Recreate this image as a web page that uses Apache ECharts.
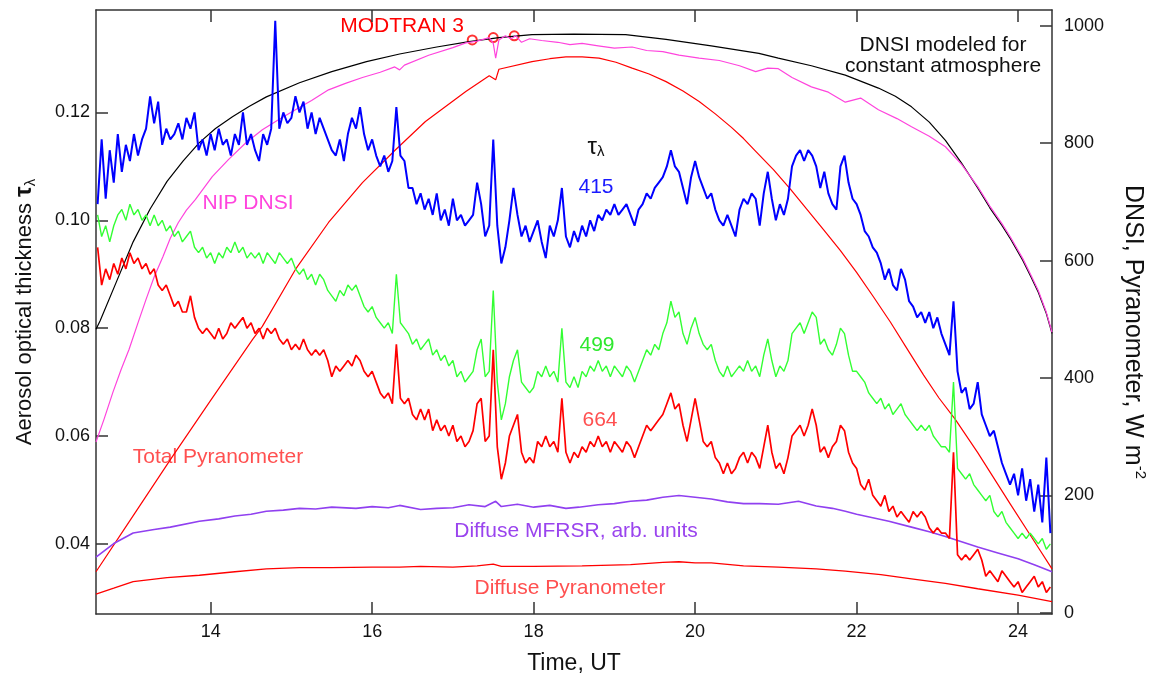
<!DOCTYPE html>
<html>
<head>
    <meta charset="UTF-8">
    <title>Aerosol optical thickness and DNSI</title>
    <script src="https://cdn.jsdelivr.net/npm/echarts@6/dist/echarts.min.js"></script>
</head>
<body style="margin:0;background:#fff;">
    <div id="main" style="width:1156px;height:680px;"></div>
    <script type="text/javascript">
        // time grid of the optical thickness readings (UT hours)
        var T_START = 12.6, T_STEP = 0.05;

        // aerosol optical thickness, one value every 0.05 h from 12.60 to 24.40
        var tau415 = [
            0.103, 0.115, 0.104, 0.113, 0.107, 0.116, 0.109, 0.114,
            0.111, 0.116, 0.112, 0.115, 0.117, 0.123, 0.118, 0.122, 0.114, 0.117,
            0.115, 0.116, 0.118, 0.115, 0.119, 0.117, 0.120, 0.113, 0.115, 0.112,
            0.116, 0.113, 0.117, 0.114, 0.115, 0.112, 0.116, 0.114, 0.120, 0.114,
            0.116, 0.113, 0.111, 0.116, 0.114, 0.117, 0.137, 0.117, 0.120, 0.118,
            0.119, 0.123, 0.120, 0.122, 0.117, 0.120, 0.116, 0.119, 0.117, 0.115,
            0.113, 0.112, 0.115, 0.111, 0.116, 0.119, 0.117, 0.121, 0.116, 0.113,
            0.115, 0.112, 0.110, 0.112, 0.109, 0.111, 0.121, 0.112, 0.111, 0.106,
            0.106, 0.103, 0.105, 0.102, 0.104, 0.101, 0.105, 0.100, 0.102, 0.099,
            0.104, 0.100, 0.101, 0.099, 0.100, 0.101, 0.107, 0.103, 0.097, 0.099,
            0.115, 0.099, 0.092, 0.095, 0.100, 0.106, 0.101, 0.097, 0.099, 0.096,
            0.098, 0.100, 0.096, 0.093, 0.099, 0.097, 0.100, 0.106, 0.097, 0.095,
            0.098, 0.096, 0.099, 0.097, 0.100, 0.098, 0.101, 0.100, 0.102, 0.101,
            0.103, 0.101, 0.102, 0.103, 0.101, 0.099, 0.102, 0.103, 0.105, 0.104,
            0.106, 0.107, 0.108, 0.110, 0.113, 0.110, 0.109, 0.106, 0.103, 0.108,
            0.111, 0.108, 0.106, 0.104, 0.105, 0.102, 0.100, 0.099, 0.101, 0.099,
            0.097, 0.102, 0.104, 0.103, 0.105, 0.104, 0.099, 0.105, 0.109, 0.104,
            0.100, 0.103, 0.101, 0.104, 0.110, 0.112, 0.113, 0.111, 0.113, 0.112,
            0.110, 0.106, 0.109, 0.105, 0.103, 0.102, 0.110, 0.112, 0.107, 0.104,
            0.103, 0.101, 0.098, 0.097, 0.095, 0.094, 0.092, 0.089, 0.091, 0.088,
            0.087, 0.091, 0.089, 0.085, 0.084, 0.082, 0.083, 0.081, 0.083, 0.080,
            0.082, 0.079, 0.077, 0.075, 0.085, 0.072, 0.068, 0.069, 0.065, 0.066,
            0.070, 0.064, 0.062, 0.060, 0.061, 0.058, 0.055, 0.053, 0.051, 0.053,
            0.049, 0.054, 0.048, 0.052, 0.046, 0.051, 0.044, 0.056, 0.042
        ];
        var tau499 = [
            0.101, 0.097, 0.099, 0.096, 0.099, 0.101, 0.102, 0.100,
            0.103, 0.101, 0.102, 0.100, 0.101, 0.099, 0.101, 0.099, 0.100, 0.098,
            0.099, 0.097, 0.098, 0.096, 0.097, 0.098, 0.095, 0.094, 0.095, 0.093,
            0.094, 0.092, 0.094, 0.093, 0.095, 0.094, 0.096, 0.094, 0.095, 0.093,
            0.094, 0.093, 0.094, 0.092, 0.094, 0.093, 0.092, 0.094, 0.093, 0.092,
            0.093, 0.091, 0.090, 0.091, 0.089, 0.090, 0.088, 0.090, 0.089, 0.087,
            0.086, 0.085, 0.087, 0.086, 0.088, 0.087, 0.088, 0.086, 0.084, 0.083,
            0.084, 0.082, 0.081, 0.080, 0.081, 0.079, 0.090, 0.081, 0.080, 0.079,
            0.077, 0.078, 0.076, 0.077, 0.078, 0.075, 0.076, 0.074, 0.075, 0.073,
            0.074, 0.071, 0.072, 0.070, 0.071, 0.072, 0.076, 0.078, 0.071, 0.072,
            0.087, 0.070, 0.063, 0.066, 0.071, 0.074, 0.076, 0.070, 0.069, 0.068,
            0.069, 0.072, 0.071, 0.073, 0.071, 0.072, 0.070, 0.080, 0.070, 0.069,
            0.071, 0.069, 0.072, 0.071, 0.073, 0.072, 0.074, 0.072, 0.073, 0.071,
            0.073, 0.072, 0.071, 0.073, 0.072, 0.070, 0.072, 0.074, 0.076, 0.075,
            0.077, 0.076, 0.079, 0.081, 0.085, 0.082, 0.083, 0.079, 0.077, 0.080,
            0.082, 0.079, 0.077, 0.076, 0.077, 0.074, 0.072, 0.071, 0.073, 0.071,
            0.072, 0.073, 0.072, 0.074, 0.072, 0.073, 0.071, 0.075, 0.078, 0.074,
            0.071, 0.073, 0.072, 0.074, 0.079, 0.080, 0.081, 0.079, 0.081, 0.083,
            0.082, 0.077, 0.078, 0.076, 0.075, 0.077, 0.080, 0.079, 0.075, 0.072,
            0.072, 0.071, 0.070, 0.068, 0.067, 0.066, 0.067, 0.065, 0.066, 0.064,
            0.065, 0.066, 0.064, 0.063, 0.062, 0.061, 0.062, 0.061, 0.062, 0.060,
            0.059, 0.058, 0.058, 0.057, 0.070, 0.054, 0.053, 0.052, 0.053, 0.051,
            0.050, 0.049, 0.048, 0.049, 0.046, 0.045, 0.046, 0.044, 0.043, 0.042,
            0.041, 0.042, 0.041, 0.042, 0.041, 0.040, 0.041, 0.039, 0.040
        ];
        var tau664 = [
            0.095, 0.088, 0.091, 0.089, 0.092, 0.090, 0.093, 0.091,
            0.094, 0.092, 0.093, 0.091, 0.092, 0.090, 0.091, 0.088, 0.087, 0.088,
            0.086, 0.084, 0.085, 0.083, 0.083, 0.086, 0.082, 0.080, 0.079, 0.080,
            0.079, 0.078, 0.080, 0.078, 0.079, 0.081, 0.080, 0.081, 0.082, 0.080,
            0.081, 0.079, 0.080, 0.078, 0.080, 0.079, 0.080, 0.078, 0.077, 0.078,
            0.076, 0.077, 0.076, 0.078, 0.076, 0.075, 0.076, 0.075, 0.076, 0.074,
            0.071, 0.073, 0.072, 0.073, 0.074, 0.073, 0.075, 0.074, 0.072, 0.071,
            0.072, 0.070, 0.068, 0.067, 0.068, 0.066, 0.077, 0.067, 0.066, 0.067,
            0.064, 0.063, 0.065, 0.063, 0.065, 0.061, 0.063, 0.061, 0.062, 0.060,
            0.062, 0.059, 0.060, 0.058, 0.059, 0.061, 0.066, 0.067, 0.059, 0.060,
            0.076, 0.058, 0.052, 0.055, 0.060, 0.062, 0.064, 0.057, 0.055, 0.056,
            0.055, 0.059, 0.058, 0.060, 0.058, 0.059, 0.057, 0.067, 0.057, 0.055,
            0.057, 0.056, 0.058, 0.057, 0.059, 0.058, 0.060, 0.058, 0.059, 0.057,
            0.059, 0.058, 0.057, 0.059, 0.058, 0.056, 0.058, 0.060, 0.062, 0.061,
            0.062, 0.063, 0.064, 0.066, 0.068, 0.065, 0.066, 0.062, 0.059, 0.063,
            0.067, 0.063, 0.059, 0.058, 0.059, 0.056, 0.055, 0.053, 0.055, 0.053,
            0.054, 0.056, 0.057, 0.055, 0.057, 0.056, 0.054, 0.058, 0.062, 0.057,
            0.054, 0.055, 0.053, 0.056, 0.060, 0.061, 0.062, 0.060, 0.062, 0.065,
            0.062, 0.057, 0.058, 0.056, 0.058, 0.059, 0.062, 0.061, 0.057, 0.055,
            0.054, 0.051, 0.050, 0.052, 0.049, 0.048, 0.047, 0.049, 0.046, 0.047,
            0.045, 0.046, 0.045, 0.044, 0.046, 0.045, 0.046, 0.045, 0.043, 0.042,
            0.043, 0.042, 0.042, 0.041, 0.057, 0.038, 0.037, 0.038, 0.037, 0.038,
            0.039, 0.037, 0.034, 0.035, 0.034, 0.033, 0.035, 0.034, 0.033, 0.032,
            0.033, 0.031, 0.032, 0.033, 0.034, 0.032, 0.033, 0.031, 0.032
        ];

        // irradiances, W m-2, as [time UT, value]
        var dnsiModel = [
            [12.58, 483], [12.63, 497], [12.83, 563], [13.04, 632], [13.25, 688], [13.46, 735],
            [13.66, 770], [13.86, 801], [14.06, 825], [14.27, 845], [14.48, 863], [14.69, 879],
            [15.1, 903], [15.5, 922], [15.93, 939], [16.34, 952], [16.8, 964], [17.2, 973],
            [17.57, 980], [17.98, 985], [18.5, 986], [19.14, 985], [19.64, 977], [20.2, 966],
            [20.79, 953], [21.03, 945], [21.44, 932], [21.86, 916], [22.27, 894], [22.48, 880],
            [22.68, 862], [22.9, 836], [23.1, 805], [23.3, 766], [23.5, 724], [23.65, 690],
            [23.8, 660], [23.91, 636], [24.06, 600], [24.16, 572], [24.25, 546], [24.35, 510],
            [24.42, 476]
        ];
        var nipDnsi = [
            [12.58, 291], [12.68, 330], [12.79, 376], [12.89, 414], [12.99, 449], [13.1, 494],
            [13.2, 534], [13.3, 572], [13.41, 607], [13.5, 638], [13.6, 665], [13.7, 686],
            [13.81, 704], [14.02, 743], [14.22, 772], [14.43, 800], [14.64, 823], [14.85, 841],
            [15.05, 857], [15.25, 873], [15.46, 891], [15.67, 902], [15.88, 912], [16.1, 921],
            [16.28, 930], [16.34, 925], [16.4, 933], [16.7, 950], [17.0, 963], [17.16, 971],
            [17.3, 974], [17.45, 980], [17.5, 970], [17.53, 945], [17.57, 976], [17.65, 983],
            [17.72, 978], [17.78, 983], [17.85, 972], [17.95, 978], [18.1, 975], [18.3, 972],
            [18.45, 968], [18.6, 970], [18.8, 966], [19.0, 962], [19.22, 964], [19.4, 958],
            [19.6, 956], [19.8, 950], [20.05, 945], [20.3, 941], [20.55, 932], [20.75, 922],
            [20.9, 928], [21.03, 927], [21.2, 912], [21.44, 896], [21.65, 887], [21.86, 870],
            [22.05, 877], [22.27, 857], [22.5, 842], [22.68, 828], [22.9, 812], [23.1, 794],
            [23.3, 764], [23.5, 726], [23.65, 693], [23.8, 663], [23.91, 639], [24.06, 603],
            [24.16, 575], [24.25, 549], [24.35, 512], [24.42, 478]
        ];
        var totalPyran = [
            [12.58, 70], [13.0, 157], [13.53, 267], [14.0, 362], [14.52, 466], [14.64, 488],
            [15.05, 585], [15.46, 665], [15.88, 733], [16.29, 789], [16.66, 837], [17.16, 888],
            [17.45, 915], [17.53, 908], [17.57, 926], [17.98, 939], [18.2, 944], [18.4, 947],
            [18.6, 947], [18.81, 945], [19.02, 938], [19.22, 928], [19.43, 918], [19.64, 905],
            [19.85, 889], [20.05, 871], [20.25, 850], [20.45, 827], [20.6, 808], [20.76, 785],
            [20.97, 755], [21.18, 722], [21.38, 688], [21.59, 653], [21.8, 617], [22.0, 580],
            [22.21, 538], [22.42, 495], [22.62, 451], [22.83, 405], [23.02, 366], [23.22, 330],
            [23.5, 273], [23.91, 184], [24.2, 122], [24.42, 75]
        ];
        var diffuseMfrsr = [
            [12.58, 95], [12.8, 118], [13.04, 136], [13.3, 142], [13.5, 146], [13.86, 156],
            [14.1, 160], [14.3, 165], [14.5, 168], [14.69, 173], [14.9, 175], [15.1, 178],
            [15.3, 177], [15.5, 180], [15.8, 178], [16.0, 181], [16.2, 179], [16.34, 183],
            [16.6, 176], [16.8, 178], [17.0, 179], [17.2, 184], [17.4, 181], [17.53, 190],
            [17.6, 181], [17.8, 185], [18.0, 180], [18.2, 183], [18.4, 178], [18.56, 180],
            [18.8, 184], [19.0, 186], [19.2, 190], [19.4, 192], [19.6, 197], [19.8, 200],
            [20.0, 197], [20.2, 194], [20.4, 189], [20.6, 186], [20.8, 186], [21.03, 185],
            [21.28, 190], [21.5, 182], [21.7, 178], [21.86, 173], [22.0, 168], [22.2, 162],
            [22.4, 156], [22.68, 146], [22.9, 138], [23.1, 130], [23.3, 121], [23.5, 112],
            [23.75, 102], [24.0, 92], [24.2, 82], [24.42, 70]
        ];
        var diffusePyran = [
            [12.58, 32], [12.8, 42], [13.04, 53], [13.46, 60], [13.86, 64], [14.3, 70],
            [14.69, 75], [15.1, 77], [15.5, 77], [16.0, 78], [16.34, 78], [16.6, 79],
            [17.0, 78], [17.3, 80], [17.5, 83], [17.6, 79], [18.0, 79], [18.6, 80],
            [19.2, 82], [19.6, 86], [19.8, 87], [20.0, 85], [20.2, 85], [20.6, 80],
            [21.03, 78], [21.5, 75], [21.86, 71], [22.3, 65], [22.68, 58], [23.1, 50],
            [23.5, 41], [24.0, 30], [24.42, 19]
        ];
        var modtran = [[17.24, 976], [17.5, 980], [17.76, 983]];

        // tick labels
        var timeTicks = [14, 16, 18, 20, 22, 24];
        var tauTicks = [0.04, 0.06, 0.08, 0.10, 0.12];
        var dnsiTicks = [0, 200, 400, 600, 800, 1000];

        var FONT = 'Liberation Sans, Arial, sans-serif';

        function onGrid(values) {
            return values.map(function (v, i) {
                return [Math.round((T_START + i * T_STEP) * 100) / 100, v];
            });
        }

        function line(name, data, color, width, yIndex) {
            return {
                name: name, type: 'line', data: data, yAxisIndex: yIndex,
                showSymbol: false, symbol: 'none', silent: true,
                lineStyle: { color: color, width: width }
            };
        }

        function label(text, x, y, color) {
            return {
                type: 'text', x: x, y: y, silent: true,
                style: {
                    text: text, fill: color, font: '21px ' + FONT,
                    align: 'center', verticalAlign: 'middle',
                    textAlign: 'center', textVerticalAlign: 'middle'
                }
            };
        }

        var myChart = echarts.init(document.getElementById('main'));
        var axisLineStyle = { color: '#333', width: 1.5 };

        var option = {
            animation: false,
            grid: { left: 96, right: 102, top: 10, bottom: 65, containLabel: false },
            xAxis: [
                {
                    type: 'value', min: 12.58, max: 24.42, position: 'bottom',
                    name: 'Time, UT', nameLocation: 'middle', nameGap: 38,
                    nameTextStyle: { fontFamily: FONT, fontSize: 23, color: '#111' },
                    axisLine: { onZero: false, lineStyle: axisLineStyle },
                    axisTick: { inside: true, length: 12, customValues: timeTicks, lineStyle: axisLineStyle },
                    axisLabel: { customValues: timeTicks, margin: 9, fontFamily: FONT, fontSize: 18, color: '#111' },
                    splitLine: { show: false }
                },
                {
                    type: 'value', min: 12.58, max: 24.42, position: 'top',
                    axisLine: { onZero: false, lineStyle: axisLineStyle },
                    axisTick: { inside: true, length: 12, customValues: timeTicks, lineStyle: axisLineStyle },
                    axisLabel: { show: false },
                    splitLine: { show: false }
                }
            ],
            yAxis: [
                {
                    type: 'value', min: 0.027, max: 0.139, position: 'left',
                    name: 'Aerosol optical thickness {t|τ}{s|λ}',
                    nameLocation: 'middle', nameGap: 58, nameRotate: 90,
                    nameTextStyle: {
                        fontFamily: FONT, fontSize: 22, color: '#111', lineHeight: 27,
                        rich: {
                            t: { fontFamily: FONT, fontSize: 24, fontWeight: 'bold', color: '#111', lineHeight: 27 },
                            s: { fontFamily: FONT, fontSize: 15, color: '#111', verticalAlign: 'bottom', lineHeight: 15 }
                        }
                    },
                    axisLine: { show: true, onZero: false, lineStyle: axisLineStyle },
                    axisTick: { show: true, inside: true, length: 12, customValues: tauTicks, lineStyle: axisLineStyle },
                    axisLabel: {
                        customValues: tauTicks, margin: 6, fontFamily: FONT, fontSize: 18, color: '#111',
                        formatter: function (v) { return v.toFixed(2); }
                    },
                    splitLine: { show: false }
                },
                {
                    type: 'value', min: -2, max: 1027, position: 'right',
                    name: 'DNSI, Pyranometer, W m{p|-2}',
                    nameLocation: 'middle', nameGap: 66, nameRotate: -90,
                    nameTextStyle: {
                        fontFamily: FONT, fontSize: 25, color: '#111', lineHeight: 30,
                        padding: [0, 0, 0, 40],
                        rich: {
                            p: { fontFamily: FONT, fontSize: 15, color: '#111', verticalAlign: 'top', lineHeight: 15 }
                        }
                    },
                    axisLine: { show: true, onZero: false, lineStyle: axisLineStyle },
                    axisTick: { show: true, inside: true, length: 12, customValues: dnsiTicks, lineStyle: axisLineStyle },
                    axisLabel: {
                        customValues: dnsiTicks, margin: 12, fontFamily: FONT, fontSize: 18, color: '#111',
                        formatter: function (v) { return String(v); }
                    },
                    splitLine: { show: false }
                }
            ],
            series: [
                line('DNSI modeled', dnsiModel, '#000000', 1.2, 1),
                line('NIP DNSI', nipDnsi, '#ff44dd', 1.2, 1),
                line('Total Pyranometer', totalPyran, '#ff0000', 1.2, 1),
                line('Diffuse MFRSR', diffuseMfrsr, '#9040f0', 1.6, 1),
                line('Diffuse Pyranometer', diffusePyran, '#ff0000', 1.3, 1),
                line('664', onGrid(tau664), '#ff0000', 1.7, 0),
                line('499', onGrid(tau499), '#33ff33', 1.4, 0),
                line('415', onGrid(tau415), '#0000ff', 2, 0),
                {
                    name: 'MODTRAN 3', type: 'scatter', yAxisIndex: 1, data: modtran,
                    symbol: 'emptyCircle', symbolSize: 9, silent: true,
                    itemStyle: { color: '#ff0000', borderColor: '#ff0000', borderWidth: 1.2 }
                }
            ],
            graphic: [
                label('MODTRAN 3', 402, 26, '#ff0000'),
                label('DNSI modeled for', 943, 45, '#111'),
                label('constant atmosphere', 943, 66, '#111'),
                {
                    type: 'text', x: 596, y: 147, silent: true,
                    style: {
                        text: '{t|τ}{s|λ}', fill: '#111', font: '22px ' + FONT,
                        align: 'center', verticalAlign: 'middle',
                        textAlign: 'center', textVerticalAlign: 'middle',
                        rich: {
                            t: { fontSize: 24, fontFamily: FONT, fill: '#111', lineHeight: 24 },
                            s: { fontSize: 15, fontFamily: FONT, fill: '#111', verticalAlign: 'bottom', lineHeight: 15 }
                        }
                    }
                },
                label('415', 596, 187, '#1a1aff'),
                label('499', 597, 345, '#2ee82e'),
                label('664', 600, 420, '#ff5050'),
                label('NIP DNSI', 248, 203, '#ff44dd'),
                label('Total Pyranometer', 218, 457, '#ff5050'),
                label('Diffuse MFRSR, arb. units', 576, 531, '#9a44ee'),
                label('Diffuse Pyranometer', 570, 588, '#ff5050')
            ]
        };

        myChart.setOption(option);
    </script>
</body>
</html>
